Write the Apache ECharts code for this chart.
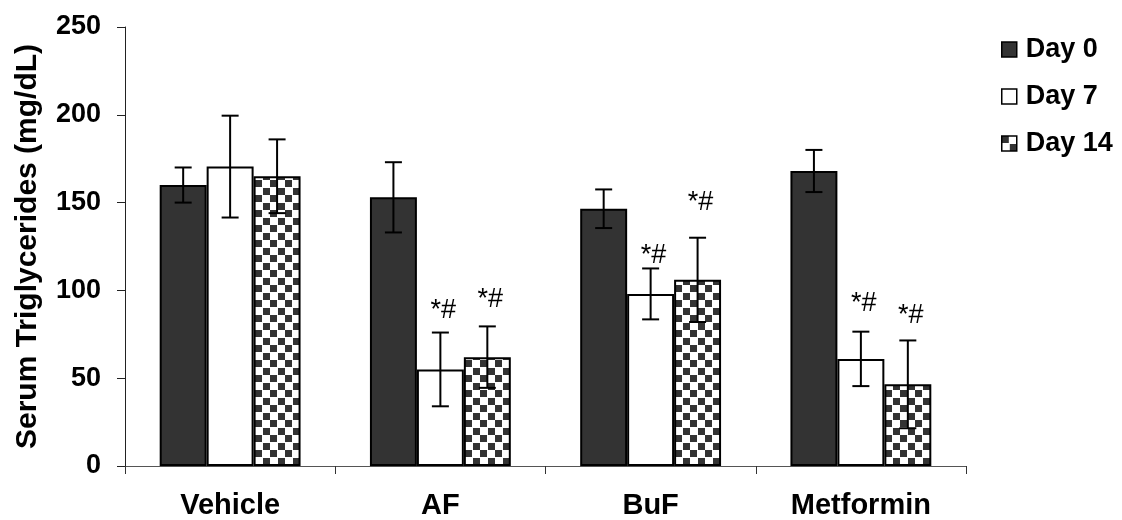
<!DOCTYPE html>
<html>
<head>
<meta charset="utf-8">
<script src="https://cdn.jsdelivr.net/npm/echarts@6/dist/echarts.min.js"></script>
<style>
  html, body { margin: 0; padding: 0; background: #fff; }
  #chart { width: 1122px; height: 520px; }
</style>
</head>
<body>
<div id="chart"></div>
<script>
// Serum triglycerides by treatment group and day (mean ± error)
const groups = ['Vehicle', 'AF', 'BuF', 'Metformin'];
const dayNames = ['Day 0', 'Day 7', 'Day 14'];

const day0Mean = [160, 153, 146.5, 168];
const day0Err = [10, 20, 11, 12];
const day7Mean = [170.5, 55, 98, 61];
const day7Err = [29, 21, 14.5, 15.5];
const day14Mean = [165, 62, 106, 46.5];
const day14Err = [21, 17.5, 24, 25];

const day7Sig = ['', '*#', '*#', '*#'];
const day14Sig = ['', '*#', '*#', '*#'];

const yTicks = [0, 50, 100, 150, 200, 250];

// Styling
const FONT = '"Liberation Sans", Arial, sans-serif';
const CAT_GAP = 0.33;
// pixel lift of each significance mark above its error-bar cap
const sigLift7 = [0, 22, 13, 28];
const sigLift14 = [0, 27, 35, 25];

function checker() {
  const c = document.createElement('canvas');
  c.width = 15; c.height = 15;
  const g = c.getContext('2d');
  g.fillStyle = '#ffffff';
  g.fillRect(0, 0, 15, 15);
  g.fillStyle = '#333333';
  g.fillRect(0, 0, 7, 7);
  g.fillRect(8, 8, 7, 7);
  return c;
}

const means = [day0Mean, day7Mean, day14Mean];
const errs = [day0Err, day7Err, day14Err];
const sigs = [null, day7Sig, day14Sig];
const lifts = [null, sigLift7, sigLift14];
const fills = ['#333333', '#ffffff', { image: checker(), repeat: 'repeat' }];

const barSeries = dayNames.map((name, s) => ({
  name: name,
  type: 'bar',
  barGap: '0%',
  barCategoryGap: (CAT_GAP * 100) + '%',
  data: means[s],
  itemStyle: { color: fills[s], borderColor: '#000', borderWidth: 2 },
  z: 2
}));

const errSeries = dayNames.map((name, s) => ({
  type: 'custom',
  z: 10,
  silent: true,
  data: groups.map((g, i) => [i, means[s][i] - errs[s][i], means[s][i] + errs[s][i], sigs[s] ? sigs[s][i] : '', lifts[s] ? lifts[s][i] : 0]),
  encode: { x: 0, y: [1, 2] },
  renderItem: function (params, api) {
    const idx = api.value(0);
    const lo = api.coord([idx, api.value(1)]);
    const hi = api.coord([idx, api.value(2)]);
    const bw = api.size([1, 0])[0] * (1 - CAT_GAP) / 3;
    const x = lo[0] + (s - 1) * bw;
    const cap = 8.5;
    const style = { stroke: '#000', lineWidth: 2 };
    const children = [
      { type: 'line', shape: { x1: x, y1: lo[1], x2: x, y2: hi[1] }, style: style },
      { type: 'line', shape: { x1: x - cap, y1: hi[1], x2: x + cap, y2: hi[1] }, style: style },
      { type: 'line', shape: { x1: x - cap, y1: lo[1], x2: x + cap, y2: lo[1] }, style: style }
    ];
    const sig = api.value(3);
    if (sig) {
      children.push({
        type: 'text',
        style: {
          text: sig, x: x + 3, y: hi[1] - api.value(4),
          align: 'center', verticalAlign: 'middle',
          font: '27px ' + FONT, fill: '#000'
        }
      });
    }
    return { type: 'group', children: children };
  }
}));

const chart = echarts.init(document.getElementById('chart'), null, { renderer: 'canvas' });
chart.setOption({
  animation: false,
  backgroundColor: '#fff',
  grid: { left: 125, right: 156, top: 27, bottom: 54, containLabel: false },
  legend: {
    orient: 'vertical',
    left: 996,
    top: 31,
    itemWidth: 15,
    itemHeight: 15,
    itemGap: 20,
    icon: 'rect',
    data: dayNames,
    itemStyle: { borderColor: '#000', borderWidth: 1.5 },
    textStyle: { fontFamily: FONT, fontWeight: 'bold', fontSize: 27, color: '#000', padding: [0, 0, 0, 4] }
  },
  xAxis: {
    type: 'category',
    data: groups,
    axisLine: { lineStyle: { color: '#555', width: 1 } },
    axisTick: { show: true, length: 8, inside: false, lineStyle: { color: '#333' } },
    axisLabel: { fontFamily: FONT, fontWeight: 'bold', fontSize: 29, color: '#000', margin: 25 },
    splitLine: { show: false }
  },
  yAxis: {
    type: 'value',
    min: yTicks[0],
    max: yTicks[yTicks.length - 1],
    interval: yTicks[1] - yTicks[0],
    name: 'Serum Triglycerides (mg/dL)',
    nameLocation: 'middle',
    nameGap: 82,
    nameTextStyle: { fontFamily: FONT, fontWeight: 'bold', fontSize: 30, color: '#000' },
    axisLine: { show: true, lineStyle: { color: '#222', width: 1 } },
    axisTick: { show: true, length: 8, inside: false, lineStyle: { color: '#222' } },
    axisLabel: { fontFamily: FONT, fontWeight: 'bold', fontSize: 27, color: '#000', margin: 24 },
    splitLine: { show: false }
  },
  series: barSeries.concat(errSeries)
});
</script>
</body>
</html>
